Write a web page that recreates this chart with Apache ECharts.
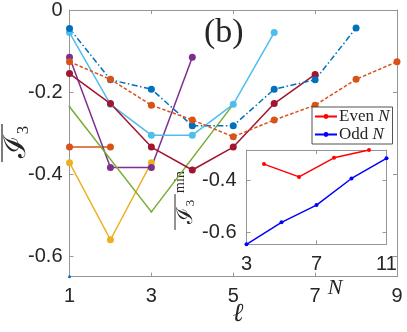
<!DOCTYPE html>
<html>
<head>
<meta charset="utf-8">
<script src="https://cdn.jsdelivr.net/npm/echarts@6/dist/echarts.min.js"></script>
<style>
  html, body { margin: 0; padding: 0; background: #fff; }
  #main { width: 407px; height: 332px; }
</style>
</head>
<body>
<div id="main"></div>
<script>
// main panel: I3 bar vs ell, one line per system size N
var ell = [1, 2, 3, 4, 5, 6, 7, 8, 9];
var n2 = [-0.65];
var n3 = [-0.334, -0.334];
var n4 = [-0.372, -0.56, -0.372];
var n5 = [-0.115, -0.384, -0.384, -0.115];
var n6Ell = [1, 3, 5];
var n6 = [-0.236, -0.492, -0.23];
var n7 = [-0.055, -0.23, -0.305, -0.305, -0.23, -0.055];
var n8 = [-0.155, -0.228, -0.334, -0.39, -0.334, -0.228, -0.157];
var n9 = [-0.045, -0.17, -0.193, -0.282, -0.282, -0.193, -0.17, -0.044];
var n10 = [-0.126, -0.169, -0.232, -0.268, -0.309, -0.268, -0.232, -0.169, -0.126];

// inset: minimum of I3 vs N
var evenN = [4, 6, 8, 10];
var evenMin = [-0.339, -0.388, -0.315, -0.285];
var oddN = [3, 5, 7, 9, 11];
var oddMin = [-0.646, -0.562, -0.496, -0.394, -0.317];

var xTicks = [1, 3, 5, 7, 9];
var yTicks = [-0.6, -0.4, -0.2, 0];
var insetXTicks = [3, 7, 11];
var insetYTicks = [-0.6, -0.4];

var axisGray = '#969696';
var textCol = '#262626';

function zip(xs, ys) {
    return ys.map(function (y, i) { return [xs[i], y]; });
}

function line(name, xs, ys, color, dash, size) {
    return {
        name: name,
        type: 'line',
        xAxisIndex: 0,
        yAxisIndex: 0,
        data: zip(xs, ys),
        symbol: 'circle',
        symbolSize: size == null ? 7 : size,
        showSymbol: true,
        z: 2,
        lineStyle: { color: color, width: 1.5, type: dash || 'solid' },
        itemStyle: { color: color },
        emphasis: { disabled: true },
        animation: false
    };
}

function valAxis(grid, pos, min, max, ticks, showLabel, margin, fmt, z) {
    return {
        type: 'value',
        gridIndex: grid,
        position: pos,
        min: min,
        max: max,
        z: z,
        splitLine: { show: false },
        axisLine: { show: true, onZero: false, lineStyle: { color: axisGray, width: 1 } },
        axisTick: { show: true, inside: true, length: 4, customValues: ticks, lineStyle: { color: axisGray } },
        axisLabel: {
            show: showLabel,
            customValues: ticks,
            margin: margin,
            fontFamily: 'Liberation Sans',
            fontSize: 20,
            color: textCol,
            formatter: fmt
        }
    };
}

var fmtY = function (v) { return v === 0 ? '0' : v.toFixed(1); };
var fmtX = function (v) { return String(v); };

var myChart = echarts.init(document.getElementById('main'));

var option = {
    animation: false,
    backgroundColor: '#fff',
    grid: [
        { left: 69.5, right: 10, top: 9.5, bottom: 55.3 },
        { left: 246.5, right: 20.5, top: 150, bottom: 87.7, show: true,
          backgroundColor: '#fff', borderWidth: 0, z: 3 }
    ],
    xAxis: [
        valAxis(0, 'bottom', 1, 9, xTicks, true, 10, fmtX, 0),
        valAxis(0, 'top', 1, 9, xTicks, false, 8, fmtX, 0),
        valAxis(1, 'bottom', 3, 11, insetXTicks, true, 10, fmtX, 5),
        valAxis(1, 'top', 3, 11, insetXTicks, false, 8, fmtX, 5)
    ],
    yAxis: [
        valAxis(0, 'left', -0.65, 0, yTicks, true, 7, fmtY, 0),
        valAxis(0, 'right', -0.65, 0, yTicks, false, 8, fmtY, 0),
        valAxis(1, 'left', -0.646, -0.285, insetYTicks, true, 10, fmtY, 5),
        valAxis(1, 'right', -0.646, -0.285, insetYTicks, false, 8, fmtY, 5)
    ],
    legend: {
        data: ['Even N', 'Odd N'],
        left: 312,
        top: 107,
        orient: 'vertical',
        itemWidth: 22,
        itemHeight: 6,
        itemGap: 1,
        padding: [1, 3, 1, 2],
        backgroundColor: '#fff',
        borderColor: textCol,
        borderWidth: 0.8,
        z: 6,
        formatter: function (name) {
            return name.split(' ')[0] + ' {i|N}';
        },
        textStyle: {
            fontFamily: 'Liberation Serif',
            fontSize: 17,
            color: textCol,
            padding: [0, 0, 0, -3],
            rich: { i: { fontFamily: 'Liberation Serif', fontStyle: 'italic', fontSize: 17, color: textCol } }
        }
    },
    series: [
        line('N2', ell, n2, '#0072BD', 'solid', 3),
        line('N3', ell, n3, '#D95319'),
        line('N4', ell, n4, '#EDB120'),
        line('N5', ell, n5, '#7E2F8E'),
        line('N6', n6Ell, n6, '#77AC30', 'solid', 2),
        line('N7', ell, n7, '#4DBEEE'),
        line('N8', ell, n8, '#A2142F'),
        line('N9', ell, n9, '#0072BD', [6, 2.5, 1.5, 2.5]),
        line('N10', ell, n10, '#D95319', [3.5, 2]),
        {
            name: 'Even N', type: 'line', xAxisIndex: 2, yAxisIndex: 2,
            data: zip(evenN, evenMin), symbol: 'circle', symbolSize: 4, z: 6,
            lineStyle: { color: '#FF0000', width: 1.5 }, itemStyle: { color: '#FF0000' },
            emphasis: { disabled: true }
        },
        {
            name: 'Odd N', type: 'line', xAxisIndex: 2, yAxisIndex: 2,
            data: zip(oddN, oddMin), symbol: 'circle', symbolSize: 4, z: 6,
            lineStyle: { color: '#0000FF', width: 1.5 }, itemStyle: { color: '#0000FF' },
            emphasis: { disabled: true }
        }
    ],
    graphic: [
        { type: 'text', left: 204, top: 16, z: 10,
          style: { text: '(b)', fontFamily: 'Liberation Serif', fontSize: 34, fill: textCol } },
        { type: 'text', x: 238, y: 314, z: 10,
          style: { text: 'ℓ', fontFamily: 'DejaVu Serif', fontStyle: 'italic', fontSize: 26, fill: textCol,
                   align: 'center', verticalAlign: 'middle' } },
        { type: 'text', x: 335, y: 288, z: 10,
          style: { text: 'N', fontFamily: 'Liberation Serif', fontStyle: 'italic', fontSize: 22, fill: textCol,
                   align: 'center', verticalAlign: 'middle' } },
        // main y title: overlined I_3, rotated
        { type: 'group', x: 17, y: 143, rotation: Math.PI / 2, z: 10,
          children: [
            { type: 'text', x: -4, y: 0,
              style: { text: 'ℐ', fontFamily: 'DejaVu Serif', fontSize: 30, fill: textCol,
                       align: 'center', verticalAlign: 'middle' } },
            { type: 'text', x: 13, y: 7,
              style: { text: '3', fontFamily: 'Liberation Serif', fontSize: 17, fill: textCol,
                       align: 'center', verticalAlign: 'middle' } },
            { type: 'line', shape: { x1: -19, y1: -15, x2: 19, y2: -15 },
              style: { stroke: textCol, lineWidth: 1.2 } }
          ] },
        // inset y title
        { type: 'group', x: 186, y: 198, rotation: Math.PI / 2, z: 10,
          children: [
            { type: 'text', x: -18, y: 0,
              style: { text: 'ℐ', fontFamily: 'DejaVu Serif', fontSize: 22, fill: textCol,
                       align: 'center', verticalAlign: 'middle' } },
            { type: 'text', x: -5, y: 5,
              style: { text: '3', fontFamily: 'Liberation Serif', fontSize: 13, fill: textCol,
                       align: 'center', verticalAlign: 'middle' } },
            { type: 'text', x: 16, y: -6,
              style: { text: 'min', fontFamily: 'Liberation Serif', fontSize: 14, fill: textCol,
                       align: 'center', verticalAlign: 'middle' } },
            { type: 'line', shape: { x1: -32, y1: -11, x2: 4, y2: -11 },
              style: { stroke: textCol, lineWidth: 1 } }
          ] }
    ]
};

myChart.setOption(option);
</script>
</body>
</html>
